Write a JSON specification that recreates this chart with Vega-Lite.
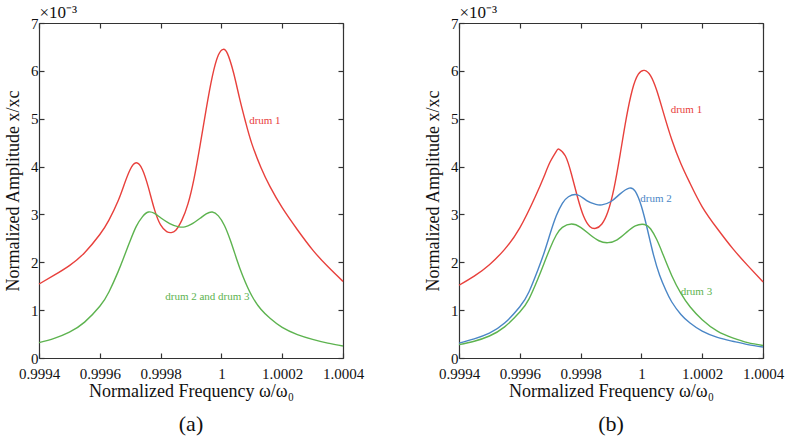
{
  "$schema": "https://vega.github.io/schema/vega-lite/v6.json",
  "background": "white",
  "padding": {"left": 4, "top": 3, "right": 5, "bottom": 5},
  "config": {
    "font": "Liberation Serif",
    "view": {"stroke": null},
    "axis": {"grid": false, "domainColor": "#333", "tickColor": "#333", "labelColor": "#111", "titleColor": "#111", "labelFont": "Liberation Serif", "titleFont": "Liberation Serif", "titleFontWeight": "normal", "labelFontSize": 15, "titleFontSize": 18, "tickSize": -5, "domainWidth": 1.2, "tickWidth": 1.2, "labelOverlap": false, "labelFlush": false, "labelBound": false},
    "title": {"font": "Liberation Serif", "fontWeight": "normal", "fontSize": 22, "color": "#111"}
  },
  "resolve": {"scale": {"color": "shared"}},
  "datasets": {
    "a_lines": [
      {"series": "drum 1", "x": 0.9994, "y": 1.545},
      {"series": "drum 1", "x": 0.99945, "y": 1.73},
      {"series": "drum 1", "x": 0.9995, "y": 1.93},
      {"series": "drum 1", "x": 0.99955, "y": 2.2},
      {"series": "drum 1", "x": 0.9996, "y": 2.58},
      {"series": "drum 1", "x": 0.99963, "y": 2.88},
      {"series": "drum 1", "x": 0.99966, "y": 3.28},
      {"series": "drum 1", "x": 0.99968, "y": 3.62},
      {"series": "drum 1", "x": 0.9997, "y": 3.94},
      {"series": "drum 1", "x": 0.99972, "y": 4.08},
      {"series": "drum 1", "x": 0.99974, "y": 3.94},
      {"series": "drum 1", "x": 0.99976, "y": 3.56},
      {"series": "drum 1", "x": 0.99978, "y": 3.1},
      {"series": "drum 1", "x": 0.9998, "y": 2.78},
      {"series": "drum 1", "x": 0.99982, "y": 2.64},
      {"series": "drum 1", "x": 0.999835, "y": 2.62},
      {"series": "drum 1", "x": 0.99985, "y": 2.67},
      {"series": "drum 1", "x": 0.99987, "y": 2.88},
      {"series": "drum 1", "x": 0.99989, "y": 3.22},
      {"series": "drum 1", "x": 0.99991, "y": 3.75},
      {"series": "drum 1", "x": 0.99993, "y": 4.45},
      {"series": "drum 1", "x": 0.99995, "y": 5.2},
      {"series": "drum 1", "x": 0.99997, "y": 5.88},
      {"series": "drum 1", "x": 0.99999, "y": 6.33},
      {"series": "drum 1", "x": 1.000006, "y": 6.45},
      {"series": "drum 1", "x": 1.00002, "y": 6.36},
      {"series": "drum 1", "x": 1.00004, "y": 5.96},
      {"series": "drum 1", "x": 1.00006, "y": 5.42},
      {"series": "drum 1", "x": 1.00008, "y": 4.92},
      {"series": "drum 1", "x": 1.0001, "y": 4.48},
      {"series": "drum 1", "x": 1.00013, "y": 3.98},
      {"series": "drum 1", "x": 1.00016, "y": 3.58},
      {"series": "drum 1", "x": 1.0002, "y": 3.14},
      {"series": "drum 1", "x": 1.00025, "y": 2.68},
      {"series": "drum 1", "x": 1.0003, "y": 2.26},
      {"series": "drum 1", "x": 1.00035, "y": 1.91},
      {"series": "drum 1", "x": 1.0004, "y": 1.6},
      {"series": "drum 2 and drum 3", "x": 0.9994, "y": 0.32},
      {"series": "drum 2 and drum 3", "x": 0.99945, "y": 0.41},
      {"series": "drum 2 and drum 3", "x": 0.9995, "y": 0.54},
      {"series": "drum 2 and drum 3", "x": 0.99955, "y": 0.75},
      {"series": "drum 2 and drum 3", "x": 0.9996, "y": 1.08},
      {"series": "drum 2 and drum 3", "x": 0.99963, "y": 1.38},
      {"series": "drum 2 and drum 3", "x": 0.99966, "y": 1.8},
      {"series": "drum 2 and drum 3", "x": 0.99968, "y": 2.12},
      {"series": "drum 2 and drum 3", "x": 0.9997, "y": 2.45},
      {"series": "drum 2 and drum 3", "x": 0.99972, "y": 2.75},
      {"series": "drum 2 and drum 3", "x": 0.99974, "y": 2.95},
      {"series": "drum 2 and drum 3", "x": 0.99976, "y": 3.05},
      {"series": "drum 2 and drum 3", "x": 0.99978, "y": 3.02},
      {"series": "drum 2 and drum 3", "x": 0.9998, "y": 2.93},
      {"series": "drum 2 and drum 3", "x": 0.99983, "y": 2.81},
      {"series": "drum 2 and drum 3", "x": 0.99986, "y": 2.74},
      {"series": "drum 2 and drum 3", "x": 0.99988, "y": 2.74},
      {"series": "drum 2 and drum 3", "x": 0.9999, "y": 2.79},
      {"series": "drum 2 and drum 3", "x": 0.99993, "y": 2.92},
      {"series": "drum 2 and drum 3", "x": 0.99995, "y": 3.01},
      {"series": "drum 2 and drum 3", "x": 0.99997, "y": 3.05},
      {"series": "drum 2 and drum 3", "x": 0.99999, "y": 2.97},
      {"series": "drum 2 and drum 3", "x": 1.00001, "y": 2.77},
      {"series": "drum 2 and drum 3", "x": 1.00003, "y": 2.45},
      {"series": "drum 2 and drum 3", "x": 1.00005, "y": 2.07},
      {"series": "drum 2 and drum 3", "x": 1.00007, "y": 1.72},
      {"series": "drum 2 and drum 3", "x": 1.0001, "y": 1.3},
      {"series": "drum 2 and drum 3", "x": 1.00013, "y": 1.02},
      {"series": "drum 2 and drum 3", "x": 1.00016, "y": 0.83},
      {"series": "drum 2 and drum 3", "x": 1.0002, "y": 0.64},
      {"series": "drum 2 and drum 3", "x": 1.00025, "y": 0.49},
      {"series": "drum 2 and drum 3", "x": 1.0003, "y": 0.39},
      {"series": "drum 2 and drum 3", "x": 1.00035, "y": 0.31},
      {"series": "drum 2 and drum 3", "x": 1.0004, "y": 0.25}
    ],
    "a_labels": [
      {"series": "drum 1", "x": 1.000143, "y": 4.95},
      {"series": "drum 2 and drum 3", "x": 0.999954, "y": 1.28}
    ],
    "b_lines": [
      {"series": "drum 1", "x": 0.9994, "y": 1.52},
      {"series": "drum 1", "x": 0.99945, "y": 1.71},
      {"series": "drum 1", "x": 0.9995, "y": 1.95},
      {"series": "drum 1", "x": 0.99955, "y": 2.27},
      {"series": "drum 1", "x": 0.9996, "y": 2.72},
      {"series": "drum 1", "x": 0.99965, "y": 3.36},
      {"series": "drum 1", "x": 0.99968, "y": 3.8},
      {"series": "drum 1", "x": 0.9997, "y": 4.1},
      {"series": "drum 1", "x": 0.99972, "y": 4.32},
      {"series": "drum 1", "x": 0.99973, "y": 4.36},
      {"series": "drum 1", "x": 0.99975, "y": 4.22},
      {"series": "drum 1", "x": 0.99977, "y": 3.84},
      {"series": "drum 1", "x": 0.99979, "y": 3.36},
      {"series": "drum 1", "x": 0.99981, "y": 2.96},
      {"series": "drum 1", "x": 0.99983, "y": 2.75},
      {"series": "drum 1", "x": 0.99985, "y": 2.71},
      {"series": "drum 1", "x": 0.99987, "y": 2.8},
      {"series": "drum 1", "x": 0.99989, "y": 3.06},
      {"series": "drum 1", "x": 0.99991, "y": 3.55},
      {"series": "drum 1", "x": 0.99993, "y": 4.25},
      {"series": "drum 1", "x": 0.99995, "y": 5.0},
      {"series": "drum 1", "x": 0.99997, "y": 5.6},
      {"series": "drum 1", "x": 0.99999, "y": 5.93},
      {"series": "drum 1", "x": 1.00001, "y": 6.01},
      {"series": "drum 1", "x": 1.00003, "y": 5.9},
      {"series": "drum 1", "x": 1.00005, "y": 5.6},
      {"series": "drum 1", "x": 1.00007, "y": 5.18},
      {"series": "drum 1", "x": 1.0001, "y": 4.56},
      {"series": "drum 1", "x": 1.00013, "y": 4.06},
      {"series": "drum 1", "x": 1.00016, "y": 3.65},
      {"series": "drum 1", "x": 1.0002, "y": 3.16},
      {"series": "drum 1", "x": 1.00025, "y": 2.7},
      {"series": "drum 1", "x": 1.0003, "y": 2.29},
      {"series": "drum 1", "x": 1.00035, "y": 1.93},
      {"series": "drum 1", "x": 1.0004, "y": 1.59},
      {"series": "drum 2", "x": 0.9994, "y": 0.31},
      {"series": "drum 2", "x": 0.99945, "y": 0.4},
      {"series": "drum 2", "x": 0.9995, "y": 0.52},
      {"series": "drum 2", "x": 0.99955, "y": 0.73},
      {"series": "drum 2", "x": 0.9996, "y": 1.07},
      {"series": "drum 2", "x": 0.99963, "y": 1.38},
      {"series": "drum 2", "x": 0.99966, "y": 1.85},
      {"series": "drum 2", "x": 0.99968, "y": 2.2},
      {"series": "drum 2", "x": 0.9997, "y": 2.6},
      {"series": "drum 2", "x": 0.99972, "y": 2.97},
      {"series": "drum 2", "x": 0.99974, "y": 3.23},
      {"series": "drum 2", "x": 0.99976, "y": 3.37},
      {"series": "drum 2", "x": 0.99979, "y": 3.41},
      {"series": "drum 2", "x": 0.99982, "y": 3.29},
      {"series": "drum 2", "x": 0.99985, "y": 3.21},
      {"series": "drum 2", "x": 0.99987, "y": 3.2},
      {"series": "drum 2", "x": 0.9999, "y": 3.27},
      {"series": "drum 2", "x": 0.99993, "y": 3.43},
      {"series": "drum 2", "x": 0.99996, "y": 3.55},
      {"series": "drum 2", "x": 0.99998, "y": 3.48},
      {"series": "drum 2", "x": 1.0, "y": 3.17},
      {"series": "drum 2", "x": 1.00002, "y": 2.68},
      {"series": "drum 2", "x": 1.00004, "y": 2.15},
      {"series": "drum 2", "x": 1.00006, "y": 1.73},
      {"series": "drum 2", "x": 1.00008, "y": 1.42},
      {"series": "drum 2", "x": 1.0001, "y": 1.17},
      {"series": "drum 2", "x": 1.00013, "y": 0.91},
      {"series": "drum 2", "x": 1.00016, "y": 0.73},
      {"series": "drum 2", "x": 1.0002, "y": 0.56},
      {"series": "drum 2", "x": 1.00025, "y": 0.43},
      {"series": "drum 2", "x": 1.0003, "y": 0.35},
      {"series": "drum 2", "x": 1.00035, "y": 0.28},
      {"series": "drum 2", "x": 1.0004, "y": 0.23},
      {"series": "drum 3", "x": 0.9994, "y": 0.28},
      {"series": "drum 3", "x": 0.99945, "y": 0.35},
      {"series": "drum 3", "x": 0.9995, "y": 0.46},
      {"series": "drum 3", "x": 0.99955, "y": 0.65},
      {"series": "drum 3", "x": 0.9996, "y": 0.96},
      {"series": "drum 3", "x": 0.99963, "y": 1.23},
      {"series": "drum 3", "x": 0.99966, "y": 1.66},
      {"series": "drum 3", "x": 0.99968, "y": 1.98},
      {"series": "drum 3", "x": 0.9997, "y": 2.3},
      {"series": "drum 3", "x": 0.99972, "y": 2.57},
      {"series": "drum 3", "x": 0.99974, "y": 2.73},
      {"series": "drum 3", "x": 0.99977, "y": 2.8},
      {"series": "drum 3", "x": 0.9998, "y": 2.73},
      {"series": "drum 3", "x": 0.99983, "y": 2.58},
      {"series": "drum 3", "x": 0.99986, "y": 2.45},
      {"series": "drum 3", "x": 0.99989, "y": 2.41},
      {"series": "drum 3", "x": 0.99992, "y": 2.47},
      {"series": "drum 3", "x": 0.99995, "y": 2.62},
      {"series": "drum 3", "x": 0.99998, "y": 2.76},
      {"series": "drum 3", "x": 1.00001, "y": 2.79},
      {"series": "drum 3", "x": 1.00003, "y": 2.7},
      {"series": "drum 3", "x": 1.00005, "y": 2.48},
      {"series": "drum 3", "x": 1.00007, "y": 2.18},
      {"series": "drum 3", "x": 1.0001, "y": 1.72},
      {"series": "drum 3", "x": 1.00013, "y": 1.35},
      {"series": "drum 3", "x": 1.00016, "y": 1.07},
      {"series": "drum 3", "x": 1.0002, "y": 0.8},
      {"series": "drum 3", "x": 1.00025, "y": 0.56},
      {"series": "drum 3", "x": 1.0003, "y": 0.42},
      {"series": "drum 3", "x": 1.00035, "y": 0.32},
      {"series": "drum 3", "x": 1.0004, "y": 0.26}
    ],
    "b_labels": [
      {"series": "drum 1", "x": 1.000148, "y": 5.19},
      {"series": "drum 2", "x": 1.000048, "y": 3.32},
      {"series": "drum 3", "x": 1.000181, "y": 1.38}
    ]
  },
  "spacing": 60,
  "hconcat": [
    {
      "width": 304,
      "height": 335,
      "title": {"text": "(a)", "orient": "bottom", "offset": 14},
      "resolve": {"axis": {"x": "independent", "y": "independent"}},
      "layer": [
        {
          "data": {"name": "a_lines"},
          "mark": {"type": "line", "interpolate": "natural", "strokeWidth": 1.4},
          "encoding": {
            "x": {"field": "x", "type": "quantitative", "scale": {"domain": [0.9994, 1.0004], "nice": false, "zero": false}, "axis": {"orient": "bottom", "values": [0.9994, 0.9996, 0.9998, 1, 1.0002, 1.0004], "format": "~g", "labelPadding": 13, "title": "Normalized Frequency  ω/ω₀", "titlePadding": 1}},
            "y": {"field": "y", "type": "quantitative", "scale": {"domain": [0, 7], "nice": false}, "axis": {"orient": "left", "values": [0, 1, 2, 3, 4, 5, 6, 7], "labelPadding": 6, "title": "Normalized Amplitude  x/xc", "titlePadding": 8}},
            "color": {"field": "series", "type": "nominal", "scale": {"domain": ["drum 1", "drum 2 and drum 3", "drum 2", "drum 3"], "range": ["#e8403c", "#5db34f", "#4a86c6", "#5db34f"]}, "legend": null}
          }
        },
        {
          "data": {"name": "a_labels"},
          "mark": {"type": "text", "fontSize": 11, "font": "Liberation Serif"},
          "encoding": {
            "x": {"field": "x", "type": "quantitative", "axis": {"orient": "top", "values": [0.9994, 0.9996, 0.9998, 1, 1.0002, 1.0004], "labels": false, "title": "×10⁻³", "titleAnchor": "start", "titleAlign": "left", "titleFontSize": 17, "titlePadding": 1}},
            "y": {"field": "y", "type": "quantitative", "axis": {"orient": "right", "values": [0, 1, 2, 3, 4, 5, 6, 7], "labels": false, "title": null}},
            "text": {"field": "series"},
            "color": {"field": "series", "type": "nominal", "legend": null}
          }
        }
      ]
    },
    {
      "width": 304,
      "height": 335,
      "title": {"text": "(b)", "orient": "bottom", "offset": 14},
      "resolve": {"axis": {"x": "independent", "y": "independent"}},
      "layer": [
        {
          "data": {"name": "b_lines"},
          "mark": {"type": "line", "interpolate": "natural", "strokeWidth": 1.4},
          "encoding": {
            "x": {"field": "x", "type": "quantitative", "scale": {"domain": [0.9994, 1.0004], "nice": false, "zero": false}, "axis": {"orient": "bottom", "values": [0.9994, 0.9996, 0.9998, 1, 1.0002, 1.0004], "format": "~g", "labelPadding": 13, "title": "Normalized Frequency  ω/ω₀", "titlePadding": 1}},
            "y": {"field": "y", "type": "quantitative", "scale": {"domain": [0, 7], "nice": false}, "axis": {"orient": "left", "values": [0, 1, 2, 3, 4, 5, 6, 7], "labelPadding": 6, "title": "Normalized Amplitude  x/xc", "titlePadding": 8}},
            "color": {"field": "series", "type": "nominal", "legend": null}
          }
        },
        {
          "data": {"name": "b_labels"},
          "mark": {"type": "text", "fontSize": 11, "font": "Liberation Serif"},
          "encoding": {
            "x": {"field": "x", "type": "quantitative", "axis": {"orient": "top", "values": [0.9994, 0.9996, 0.9998, 1, 1.0002, 1.0004], "labels": false, "title": "×10⁻³", "titleAnchor": "start", "titleAlign": "left", "titleFontSize": 17, "titlePadding": 1}},
            "y": {"field": "y", "type": "quantitative", "axis": {"orient": "right", "values": [0, 1, 2, 3, 4, 5, 6, 7], "labels": false, "title": null}},
            "text": {"field": "series"},
            "color": {"field": "series", "type": "nominal", "legend": null}
          }
        }
      ]
    }
  ]
}
